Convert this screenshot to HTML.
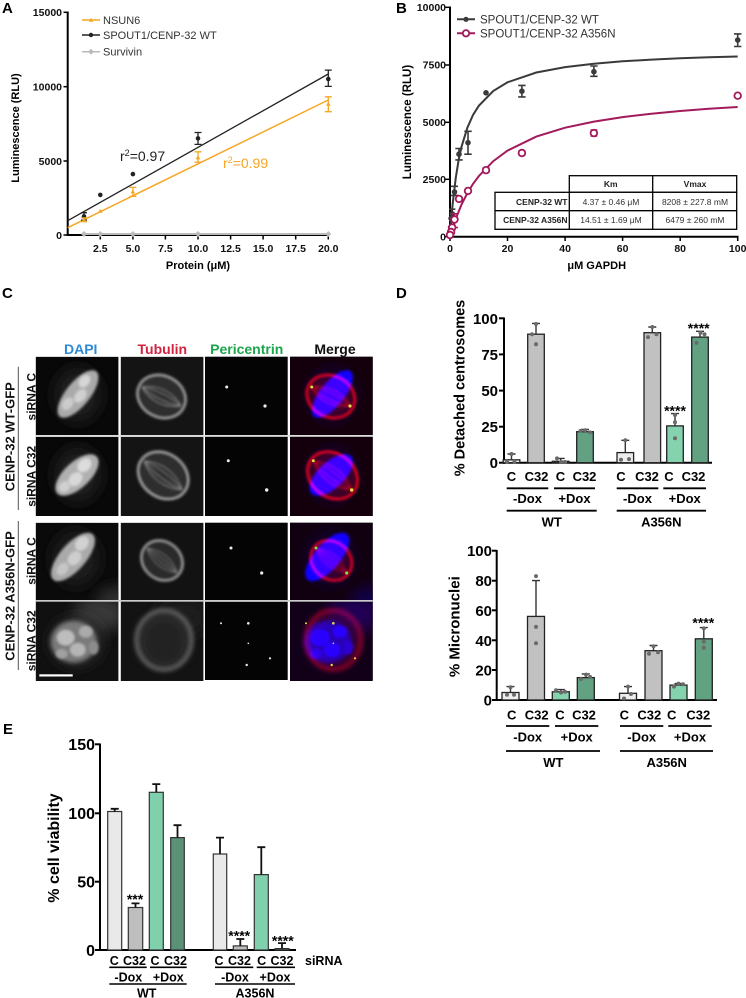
<!DOCTYPE html>
<html><head><meta charset="utf-8">
<style>
html,body{margin:0;padding:0;background:#fff;}
svg{display:block;}
text{font-family:"Liberation Sans",Arial,sans-serif;}
.b{font-weight:bold;}
</style></head>
<body>
<svg width="746" height="998" viewBox="0 0 746 998" xmlns="http://www.w3.org/2000/svg">
<defs>
  <filter id="bl1" x="-50%" y="-50%" width="200%" height="200%"><feGaussianBlur stdDeviation="1.2"/></filter>
  <filter id="bl2" x="-50%" y="-50%" width="200%" height="200%"><feGaussianBlur stdDeviation="2.2"/></filter>
  <filter id="bl6" x="-50%" y="-50%" width="200%" height="200%"><feGaussianBlur stdDeviation="7"/></filter>
  <filter id="toBlue" color-interpolation-filters="sRGB"><feColorMatrix values="0 0 0 0 0  0 0 0 0 0  0.5 0.5 0.5 0 0  0 0 0 1 0"/></filter>
  <filter id="toRed" color-interpolation-filters="sRGB"><feColorMatrix values="0.5 0.5 0.5 0 -0.04  0 0 0 0 0  0.02 0.02 0.02 0 0  0 0 0 1 0"/></filter>
  <clipPath id="cell"><rect x="0" y="0" width="82.7" height="79.3"/></clipPath>

  <!-- DAPI contents -->
  <g id="dapi1" clip-path="url(#cell)">
    <rect width="83" height="80" fill="#080808"/>
    <ellipse cx="42" cy="38" rx="24" ry="28" fill="#1a1a1a" filter="url(#bl6)"/>
    <g transform="translate(42.3,37.3) rotate(39)">
      <ellipse rx="12" ry="29" fill="#aaaaaa" filter="url(#bl1)"/>
      <ellipse cx="-3" cy="-14" rx="5" ry="7" fill="#d6d6d6" filter="url(#bl1)"/>
      <ellipse cx="3" cy="0" rx="5" ry="8" fill="#d0d0d0" filter="url(#bl1)"/>
      <ellipse cx="-2" cy="14" rx="5" ry="7" fill="#cccccc" filter="url(#bl1)"/>
    </g>
  </g>
  <g id="dapi2" clip-path="url(#cell)">
    <rect width="83" height="80" fill="#080808"/>
    <ellipse cx="42" cy="38" rx="24" ry="28" fill="#1a1a1a" filter="url(#bl6)"/>
    <g transform="translate(41.3,38.3) rotate(47)">
      <ellipse rx="13" ry="27" fill="#b0b0b0" filter="url(#bl1)"/>
      <ellipse cx="-2" cy="-12" rx="6" ry="8" fill="#dcdcdc" filter="url(#bl1)"/>
      <ellipse cx="2" cy="4" rx="6" ry="8" fill="#d8d8d8" filter="url(#bl1)"/>
      <ellipse cx="0" cy="17" rx="5" ry="6" fill="#d0d0d0" filter="url(#bl1)"/>
    </g>
  </g>
  <g id="dapi3" clip-path="url(#cell)">
    <rect width="83" height="80" fill="#0a0a0a"/>
    <ellipse cx="40" cy="36" rx="24" ry="28" fill="#1c1c1c" filter="url(#bl6)"/>
    <ellipse cx="82" cy="78" rx="22" ry="14" fill="#2e2e2e" filter="url(#bl6)"/>
    <g transform="translate(37.3,34.3) rotate(41)">
      <ellipse rx="13" ry="30" fill="#aaaaaa" filter="url(#bl1)"/>
      <ellipse cx="-2" cy="-16" rx="6" ry="8" fill="#d2d2d2" filter="url(#bl1)"/>
      <ellipse cx="2" cy="0" rx="6" ry="8" fill="#cecece" filter="url(#bl1)"/>
      <ellipse cx="0" cy="16" rx="5" ry="7" fill="#c6c6c6" filter="url(#bl1)"/>
    </g>
  </g>
  <g id="dapi4" clip-path="url(#cell)">
    <rect width="83" height="80" fill="#101010"/>
    <ellipse cx="64" cy="12" rx="26" ry="18" fill="#383838" filter="url(#bl6)"/>
    <ellipse cx="41" cy="40" rx="26" ry="24" fill="#2a2a2a" filter="url(#bl6)"/>
    <ellipse cx="38" cy="40" rx="23" ry="21" fill="#7a7a7a" filter="url(#bl2)"/>
    <ellipse cx="30" cy="36" rx="9" ry="8" fill="#bdbdbd" filter="url(#bl1)"/>
    <ellipse cx="42" cy="48" rx="8" ry="7" fill="#b5b5b5" filter="url(#bl1)"/>
    <ellipse cx="50" cy="30" rx="7" ry="6" fill="#aaaaaa" filter="url(#bl1)"/>
    <ellipse cx="58" cy="46" rx="5" ry="7" fill="#8c8c8c" filter="url(#bl1)"/>
    <ellipse cx="26" cy="52" rx="6" ry="5" fill="#a0a0a0" filter="url(#bl1)"/>
  </g>

  <!-- Tubulin contents -->
  <g id="tub1" clip-path="url(#cell)">
    <rect width="83" height="80" fill="#141414"/>
    <g transform="translate(40.8,39.8) rotate(26)">
      <ellipse rx="25" ry="21" fill="#2e2e2e" stroke="#a8a8a8" stroke-width="2" filter="url(#bl1)"/>
      <path d="M-22 0 Q0 -14 22 0 M-22 0 Q0 -6 22 0 M-22 0 Q0 6 22 0 M-22 0 Q0 14 22 0" stroke="#8a8a8a" stroke-width="1.1" fill="none" filter="url(#bl1)"/>
    </g>
  </g>
  <g id="tub2" clip-path="url(#cell)">
    <rect width="83" height="80" fill="#141414"/>
    <g transform="translate(42.5,38.7) rotate(37)">
      <ellipse rx="27" ry="22" fill="#2f2f2f" stroke="#ababab" stroke-width="2" filter="url(#bl1)"/>
      <path d="M-24 0 Q0 -15 24 0 M-24 0 Q0 -6 24 0 M-24 0 Q0 6 24 0 M-24 0 Q0 15 24 0" stroke="#8a8a8a" stroke-width="1.1" fill="none" filter="url(#bl1)"/>
    </g>
  </g>
  <g id="tub3" clip-path="url(#cell)">
    <rect width="83" height="80" fill="#121212"/>
    <g transform="translate(41.3,37.8) rotate(39)">
      <ellipse rx="22" ry="19" fill="#2a2a2a" stroke="#a0a0a0" stroke-width="2" filter="url(#bl1)"/>
      <path d="M-20 0 Q0 -12 20 0 M-20 0 Q0 -4 20 0 M-20 0 Q0 4 20 0 M-20 0 Q0 12 20 0" stroke="#7a7a7a" stroke-width="1" fill="none" filter="url(#bl1)"/>
    </g>
  </g>
  <g id="tub4" clip-path="url(#cell)">
    <rect width="83" height="80" fill="#131313"/>
    <ellipse cx="60" cy="16" rx="28" ry="20" fill="#1c1c1c" filter="url(#bl6)"/>
    <ellipse cx="43.3" cy="38.3" rx="28" ry="30" fill="#2c2c2c" stroke="#6a6a6a" stroke-width="3" filter="url(#bl2)"/>
    <ellipse cx="43.3" cy="40" rx="18" ry="20" fill="#202020" filter="url(#bl2)"/>
  </g>

  <!-- Pericentrin dots -->
  <g id="per1"><circle cx="21.7" cy="30.3" r="1.5"/><circle cx="60" cy="49.3" r="1.6"/></g>
  <g id="per2"><circle cx="23.3" cy="24" r="1.5"/><circle cx="61.7" cy="53.3" r="1.7"/></g>
  <g id="per3"><circle cx="26" cy="25.3" r="1.5"/><circle cx="56.7" cy="50.3" r="1.6"/></g>
  <g id="per4"><circle cx="16" cy="21.6" r="1"/><circle cx="43.3" cy="21.6" r="1.3"/><circle cx="41.7" cy="63.3" r="1.2"/><circle cx="65" cy="56.6" r="1.1"/><circle cx="43.3" cy="41.6" r="0.8"/></g>
</defs>

<!-- ================= Panel A ================= -->
<text x="2" y="13" font-size="15" class="b">A</text>
<g stroke="#000" stroke-width="2" fill="none">
  <line x1="67.7" y1="11.5" x2="67.7" y2="236"/>
  <line x1="66.7" y1="235" x2="329" y2="235"/>
</g>
<g stroke="#000" stroke-width="1.5">
  <line x1="63.5" y1="12.3" x2="67.7" y2="12.3"/><line x1="63.5" y1="86.7" x2="67.7" y2="86.7"/>
  <line x1="63.5" y1="161" x2="67.7" y2="161"/><line x1="63.5" y1="235" x2="67.7" y2="235"/>
  <line x1="100.3" y1="235" x2="100.3" y2="239.5"/><line x1="132.9" y1="235" x2="132.9" y2="239.5"/>
  <line x1="165.4" y1="235" x2="165.4" y2="239.5"/><line x1="198" y1="235" x2="198" y2="239.5"/>
  <line x1="230.6" y1="235" x2="230.6" y2="239.5"/><line x1="263.1" y1="235" x2="263.1" y2="239.5"/>
  <line x1="295.7" y1="235" x2="295.7" y2="239.5"/><line x1="328.3" y1="235" x2="328.3" y2="239.5"/>
</g>
<g font-size="10.5" class="b" text-anchor="end" fill="#111">
  <text x="62" y="16">15000</text><text x="62" y="90.5">10000</text>
  <text x="62" y="165">5000</text><text x="62" y="239">0</text>
</g>
<g font-size="10.5" class="b" text-anchor="middle" fill="#111">
  <text x="100.3" y="252">2.5</text><text x="132.9" y="252">5.0</text><text x="165.4" y="252">7.5</text>
  <text x="198" y="252">10.0</text><text x="230.6" y="252">12.5</text><text x="263.1" y="252">15.0</text>
  <text x="295.7" y="252">17.5</text><text x="328.3" y="252">20.0</text>
</g>
<text x="198" y="269" font-size="11" class="b" text-anchor="middle">Protein (μM)</text>
<text transform="translate(19,128) rotate(-90)" font-size="11" class="b" text-anchor="middle">Luminescence (RLU)</text>
<!-- survivin -->
<line x1="84" y1="234" x2="328.3" y2="234" stroke="#bbb" stroke-width="2"/>
<g fill="#bbb">
  <path d="M84 231 l3 3 l-3 3 l-3 -3z"/><path d="M100.3 231 l3 3 l-3 3 l-3 -3z"/><path d="M132.9 231 l3 3 l-3 3 l-3 -3z"/>
  <path d="M198 231 l3 3 l-3 3 l-3 -3z"/><path d="M328.3 231 l3 3 l-3 3 l-3 -3z"/>
</g>
<!-- fits -->
<line x1="67.7" y1="220.7" x2="328.3" y2="74" stroke="#222" stroke-width="1.3"/>
<line x1="67.7" y1="227.7" x2="328.3" y2="100" stroke="#F5A623" stroke-width="1.5"/>
<!-- black data -->
<g stroke="#222" stroke-width="1.3" fill="none">
  <path d="M84 220.1 V212.7 M81 220.1 h6 M81 212.7 h6"/>
  <path d="M198 144.4 V132.5 M194.5 144.4 h7 M194.5 132.5 h7"/>
  <path d="M328.3 86.4 V70.1 M324.8 86.4 h7 M324.8 70.1 h7"/>
</g>
<g fill="#222">
  <circle cx="84" cy="216.4" r="2.3"/><circle cx="100.3" cy="194.9" r="2.3"/><circle cx="132.9" cy="174.1" r="2.3"/>
  <circle cx="198" cy="138.4" r="2.3"/><circle cx="328.3" cy="79" r="2.3"/>
</g>
<!-- orange data -->
<g stroke="#F5A623" stroke-width="1.3" fill="none">
  <path d="M84 221.6 V217.9 M81 221.6 h6 M81 217.9 h6"/>
  <path d="M132.9 196.4 V187.4 M129.4 196.4 h7 M129.4 187.4 h7"/>
  <path d="M198 162.2 V151.8 M194.5 162.2 h7 M194.5 151.8 h7"/>
  <path d="M328.3 111.7 V96.8 M324.8 111.7 h7 M324.8 96.8 h7"/>
</g>
<g fill="#F5A623">
  <path d="M84 217.6 l2.3 4 h-4.6z"/><path d="M100.3 208.7 l2.3 4 h-4.6z"/><path d="M132.9 189.4 l2.3 4 h-4.6z"/>
  <path d="M198 155.2 l2.3 4 h-4.6z"/><path d="M328.3 101.7 l2.3 4 h-4.6z"/>
</g>
<text x="120" y="161" font-size="14" fill="#222">r<tspan dy="-5" font-size="9">2</tspan><tspan dy="5">=0.97</tspan></text>
<text x="223" y="168" font-size="14" fill="#F5A623">r<tspan dy="-5" font-size="9">2</tspan><tspan dy="5">=0.99</tspan></text>
<!-- legend A -->
<line x1="82" y1="20" x2="100" y2="20" stroke="#F5A623" stroke-width="1.5"/><path d="M91 17.8 l2.3 4 h-4.6z" fill="#F5A623"/>
<line x1="82" y1="35" x2="100" y2="35" stroke="#222" stroke-width="1.5"/><circle cx="91" cy="35" r="2.2" fill="#222"/>
<line x1="82" y1="51.7" x2="100" y2="51.7" stroke="#bbb" stroke-width="1.5"/><path d="M91 48.7 l3 3 l-3 3 l-3 -3z" fill="#bbb"/>
<g font-size="11" fill="#333">
  <text x="103" y="24">NSUN6</text><text x="103" y="39">SPOUT1/CENP-32 WT</text><text x="103" y="55.7">Survivin</text>
</g>

<!-- ================= Panel B ================= -->
<text x="396" y="13" font-size="15" class="b">B</text>
<g stroke="#000" stroke-width="2" fill="none">
  <line x1="450" y1="6.5" x2="450" y2="237.7"/>
  <line x1="449" y1="236.7" x2="738.5" y2="236.7"/>
</g>
<g stroke="#000" stroke-width="1.5">
  <line x1="445.5" y1="7.3" x2="450" y2="7.3"/><line x1="445.5" y1="65" x2="450" y2="65"/>
  <line x1="445.5" y1="122.3" x2="450" y2="122.3"/><line x1="445.5" y1="179.3" x2="450" y2="179.3"/>
  <line x1="445.5" y1="236.7" x2="450" y2="236.7"/>
  <line x1="450" y1="236.7" x2="450" y2="241"/><line x1="507.5" y1="236.7" x2="507.5" y2="241"/>
  <line x1="565.1" y1="236.7" x2="565.1" y2="241"/><line x1="622.6" y1="236.7" x2="622.6" y2="241"/>
  <line x1="680.2" y1="236.7" x2="680.2" y2="241"/><line x1="737.7" y1="236.7" x2="737.7" y2="241"/>
</g>
<g font-size="10.5" class="b" text-anchor="end" fill="#111">
  <text x="446" y="11">10000</text><text x="446" y="68.7">7500</text><text x="446" y="126">5000</text>
  <text x="446" y="183">2500</text><text x="446" y="240.4">0</text>
</g>
<g font-size="10.5" class="b" text-anchor="middle" fill="#111">
  <text x="450" y="252">0</text><text x="507.5" y="252">20</text><text x="565.1" y="252">40</text>
  <text x="622.6" y="252">60</text><text x="680.2" y="252">80</text><text x="737.7" y="252">100</text>
</g>
<text x="596.7" y="269" font-size="11" class="b" text-anchor="middle">μM GAPDH</text>
<text transform="translate(411,122) rotate(-90)" font-size="11.5" class="b" text-anchor="middle">Luminescence (RLU)</text>
<!-- curves -->
<path d="M450 236.7 L451.4 217.4 L452.9 201.7 L455.8 177.6 L458.6 160.1 L461.5 146.8 L467.3 127.9 L473 115 L478.8 105.8 L493.2 91 L507.5 82.3 L536.3 72.5 L565.1 67.1 L593.9 63.7 L622.6 61.3 L651.4 59.6 L680.2 58.3 L708.9 57.3 L737.7 56.5" fill="none" stroke="#3a3a3a" stroke-width="2"/>
<path d="M450 236.7 L451.4 231.8 L452.9 227.1 L455.8 218.7 L461.5 204.6 L467.3 193.3 L473 183.9 L478.8 176.1 L493.2 161.2 L507.5 150.6 L536.3 136.6 L565.1 127.7 L593.9 121.6 L622.6 117.1 L651.4 113.7 L680.2 111 L708.9 108.8 L737.7 107" fill="none" stroke="#A31A5C" stroke-width="2"/>
<!-- WT points -->
<g stroke="#3a3a3a" stroke-width="1.6" fill="none">
  <path d="M737.7 46.5 V33.9 M734 46.5 h7.4 M734 33.9 h7.4"/>
  <path d="M593.9 76.3 V66 M590.2 76.3 h7.4 M590.2 66 h7.4"/>
  <path d="M521.9 96.9 V85.4 M518.2 96.9 h7.4 M518.2 85.4 h7.4"/>
  <path d="M468 154.2 V131.3 M464.3 154.2 h7.4 M464.3 131.3 h7.4"/>
  <path d="M459 159.9 V148.5 M455.3 159.9 h7.4 M455.3 148.5 h7.4"/>
  <path d="M454.5 195.4 V186.3 M451 195.4 h7 M451 186.3 h7"/>
  <path d="M452.2 220.7 V209.2 M449 220.7 h6.4 M449 209.2 h6.4"/>
</g>
<g fill="#3a3a3a">
  <circle cx="737.7" cy="40" r="2.8"/><circle cx="593.9" cy="71.7" r="2.8"/><circle cx="521.9" cy="91.2" r="2.8"/>
  <circle cx="486" cy="92.8" r="2.8"/><circle cx="468" cy="142.7" r="2.8"/><circle cx="459" cy="154.2" r="2.8"/>
  <circle cx="454.5" cy="192" r="2.8"/><circle cx="452.2" cy="213.8" r="2.8"/><circle cx="451.1" cy="218.4" r="2.8"/>
  <circle cx="450.6" cy="227.5" r="2.8"/><circle cx="450" cy="234" r="2.8"/>
</g>
<!-- A356N points -->
<g stroke="#A31A5C" stroke-width="1.6" fill="none">
  <path d="M593.9 136 V130 M590.5 136 h6.8 M590.5 130 h6.8"/>
  <path d="M521.9 155.3 V150.7 M518.5 155.3 h6.8 M518.5 150.7 h6.8"/>
  <path d="M486 172.5 V167.9 M482.6 172.5 h6.8 M482.6 167.9 h6.8"/>
  <path d="M454.5 227.5 V213.8 M451 227.5 h7 M451 213.8 h7"/>
</g>
<g fill="#fff" stroke="#A31A5C" stroke-width="1.8">
  <circle cx="737.7" cy="95.7" r="3.3"/><circle cx="593.9" cy="133.1" r="3.3"/><circle cx="521.9" cy="153" r="3.3"/>
  <circle cx="486" cy="170.2" r="3.3"/><circle cx="468" cy="190.9" r="3.3"/><circle cx="459" cy="198.9" r="3.3"/>
  <circle cx="454.5" cy="219.5" r="3.3"/><circle cx="452.2" cy="227.5" r="3.3"/><circle cx="451.1" cy="232" r="3.3"/>
  <circle cx="450" cy="235" r="3.3"/>
</g>
<!-- legend B -->
<line x1="457" y1="19.3" x2="475" y2="19.3" stroke="#3a3a3a" stroke-width="2"/><circle cx="466" cy="19.3" r="2.6" fill="#3a3a3a"/>
<line x1="457" y1="33.3" x2="475" y2="33.3" stroke="#A31A5C" stroke-width="2"/><circle cx="466" cy="33.3" r="3.2" fill="#fff" stroke="#A31A5C" stroke-width="1.8"/>
<g font-size="11.5" fill="#333">
  <text x="480" y="23.5">SPOUT1/CENP-32 WT</text><text x="480" y="37.5">SPOUT1/CENP-32 A356N</text>
</g>
<!-- table -->
<g stroke="#000" stroke-width="1.3" fill="#fff">
  <rect x="569.3" y="175.7" width="167.4" height="16.6"/>
  <rect x="495" y="192.3" width="241.7" height="37"/>
  <line x1="495" y1="210.7" x2="736.7" y2="210.7"/>
  <line x1="569.3" y1="192.3" x2="569.3" y2="229.3"/>
  <line x1="652.7" y1="175.7" x2="652.7" y2="229.3"/>
</g>
<g font-size="8.5" class="b" fill="#222">
  <text x="610.7" y="187" text-anchor="middle">Km</text><text x="695" y="187" text-anchor="middle">Vmax</text>
  <text x="567.5" y="204.8" text-anchor="end">CENP-32 WT</text><text x="567.5" y="223.2" text-anchor="end">CENP-32 A356N</text>
</g>
<g font-size="8.5" fill="#333" text-anchor="middle">
  <text x="611" y="204.8">4.37 ± 0.46 μM</text><text x="695" y="204.8">8208 ± 227.8 mM</text>
  <text x="611" y="223.2">14.51 ± 1.69 μM</text><text x="695" y="223.2">6479 ± 260 mM</text>
</g>

<!-- ================= Panel C ================= -->
<text x="2" y="298" font-size="15" class="b">C</text>
<g font-size="14" class="b" text-anchor="middle">
  <text x="80.7" y="354" fill="#2F8AD6">DAPI</text>
  <text x="162.3" y="354" fill="#D2233F">Tubulin</text>
  <text x="246.7" y="354" fill="#1DA54E">Pericentrin</text>
  <text x="335" y="354" fill="#111">Merge</text>
</g>
<g font-size="13" class="b" text-anchor="middle" fill="#111">
  <text transform="translate(14.7,436.7) rotate(-90)">CENP-32 WT-GFP</text>
  <text transform="translate(14.7,596) rotate(-90)">CENP-32 A356N-GFP</text>
</g>
<line x1="18.3" y1="366.7" x2="18.3" y2="510" stroke="#555" stroke-width="1"/>
<line x1="18.3" y1="521" x2="18.3" y2="670" stroke="#555" stroke-width="1"/>
<g font-size="12" class="b" text-anchor="middle" fill="#111">
  <text transform="translate(35.6,396.7) rotate(-90)">siRNA C</text>
  <text transform="translate(35.6,476.3) rotate(-90)">siRNA C32</text>
  <text transform="translate(35.6,561) rotate(-90)">siRNA C</text>
  <text transform="translate(35.6,640.8) rotate(-90)">siRNA C32</text>
</g>
<!-- row 1 -->
<use href="#dapi1" x="35.7" y="356.7"/>
<use href="#tub1" x="120.7" y="356.7"/>
<rect x="205" y="356.7" width="82.7" height="78.3" fill="#040404"/>
<use href="#per1" x="205" y="356.7" fill="#eee"/>
<g>
  <rect x="290" y="356.7" width="82.7" height="78.3" fill="#000"/>
  <use href="#dapi1" x="290" y="356.7" filter="url(#toBlue)"/>
  <use href="#tub1" x="290" y="356.7" filter="url(#toRed)" style="mix-blend-mode:screen"/>
  <use href="#per1" x="290" y="356.7" fill="#d8e040"/>
</g>
<!-- row 2 -->
<use href="#dapi2" x="35.7" y="436.7"/>
<use href="#tub2" x="120.7" y="436.7"/>
<rect x="205" y="436.7" width="82.7" height="79.3" fill="#040404"/>
<use href="#per2" x="205" y="436.7" fill="#eee"/>
<g>
  <rect x="290" y="436.7" width="82.7" height="79.3" fill="#000"/>
  <use href="#dapi2" x="290" y="436.7" filter="url(#toBlue)"/>
  <use href="#tub2" x="290" y="436.7" filter="url(#toRed)" style="mix-blend-mode:screen"/>
  <use href="#per2" x="290" y="436.7" fill="#d8e040"/>
</g>
<!-- row 3 -->
<use href="#dapi3" x="35.7" y="522.7"/>
<use href="#tub3" x="120.7" y="522.7"/>
<rect x="205" y="522.7" width="82.7" height="77.3" fill="#040404"/>
<use href="#per3" x="205" y="522.7" fill="#eee"/>
<g>
  <rect x="290" y="522.7" width="82.7" height="77.3" fill="#000"/>
  <use href="#dapi3" x="290" y="522.7" filter="url(#toBlue)"/>
  <use href="#tub3" x="290" y="522.7" filter="url(#toRed)" style="mix-blend-mode:screen"/>
  <use href="#per3" x="290" y="522.7" fill="#7be040"/>
</g>
<!-- row 4 -->
<use href="#dapi4" x="35.7" y="601.7"/>
<use href="#tub4" x="120.7" y="601.7"/>
<rect x="205" y="601.7" width="82.7" height="78.3" fill="#040404"/>
<use href="#per4" x="205" y="601.7" fill="#eee"/>
<g>
  <rect x="290" y="601.7" width="82.7" height="78.3" fill="#000"/>
  <use href="#dapi4" x="290" y="601.7" filter="url(#toBlue)"/>
  <use href="#tub4" x="290" y="601.7" filter="url(#toRed)" style="mix-blend-mode:screen"/>
  <use href="#per4" x="290" y="601.7" fill="#e0e040"/>
</g>
<!-- row separators within groups -->
<rect x="35.7" y="435" width="337" height="1.7" fill="#ddd"/>
<rect x="35.7" y="600" width="337" height="1.7" fill="#ccc"/>
<rect x="39.3" y="674.3" width="33.4" height="2.2" fill="#fff"/>

<!-- ================= Panel D (top) ================= -->
<text x="396" y="298" font-size="15" class="b">D</text>
<text transform="translate(464.5,388) rotate(-90)" font-size="14.5" class="b" text-anchor="middle">% Detached centrosomes</text>
<g stroke="#000" stroke-width="2">
  <line x1="504" y1="317.5" x2="504" y2="463.7"/>
  <line x1="503" y1="462.7" x2="712" y2="462.7"/>
  <line x1="499" y1="318.3" x2="504" y2="318.3"/><line x1="499" y1="354.4" x2="504" y2="354.4"/>
  <line x1="499" y1="390.6" x2="504" y2="390.6"/><line x1="499" y1="426.7" x2="504" y2="426.7"/>
  <line x1="499" y1="462.7" x2="504" y2="462.7"/>
</g>
<g font-size="15" class="b" text-anchor="end">
  <text x="498" y="323.8">100</text><text x="498" y="359.9">75</text><text x="498" y="396.1">50</text>
  <text x="498" y="432.2">25</text><text x="498" y="468.2">0</text>
</g>
<g stroke="#222" stroke-width="1.3">
  <rect x="503.2" y="459.8" width="16.6" height="2.9" fill="#EDEDED"/>
  <rect x="527.7" y="334.2" width="16.6" height="128.5" fill="#C0C1C0"/>
  <rect x="552.4" y="461.3" width="16.6" height="1.4" fill="#84D3AE"/>
  <rect x="576.7" y="431.7" width="16.6" height="31" fill="#62A283"/>
  <rect x="617" y="452.6" width="16.6" height="10.1" fill="#EDEDED"/>
  <rect x="644" y="332.7" width="16.6" height="130" fill="#C0C1C0"/>
  <rect x="666.7" y="425.9" width="16.6" height="36.8" fill="#84D3AE"/>
  <rect x="691.7" y="337.1" width="16.6" height="125.6" fill="#62A283"/>
</g>
<g stroke="#333" stroke-width="1.4" fill="none">
  <path d="M511.5 459.8 V454 M507.5 454 h8"/>
  <path d="M536 334.2 V323.4 M532 323.4 h8"/>
  <path d="M560.7 461.3 V458.4 M556.7 458.4 h8"/>
  <path d="M585 431.7 V429.5 M581 429.5 h8"/>
  <path d="M625.3 452.6 V440.3 M621.3 440.3 h8"/>
  <path d="M652.3 332.7 V327 M648.3 327 h8"/>
  <path d="M675 425.9 V413.6 M671 413.6 h8"/>
  <path d="M700 337.1 V331.3 M696 331.3 h8"/>
</g>
<g fill="#6a6a6a">
  <circle cx="507" cy="461.5" r="2"/><circle cx="514.5" cy="461.5" r="2"/><circle cx="511.5" cy="454" r="2"/>
  <circle cx="532" cy="334.2" r="2"/><circle cx="536" cy="324" r="2"/><circle cx="536" cy="344.3" r="2"/>
  <circle cx="557" cy="458.4" r="2"/><circle cx="561" cy="462" r="2"/><circle cx="565" cy="462" r="2"/>
  <circle cx="580.5" cy="430.9" r="2"/><circle cx="585" cy="430.2" r="2"/><circle cx="590" cy="432.4" r="2"/>
  <circle cx="621" cy="459.8" r="2"/><circle cx="629" cy="459.1" r="2"/><circle cx="625.3" cy="440.3" r="2"/>
  <circle cx="648" cy="337.1" r="2"/><circle cx="652.3" cy="327" r="2"/><circle cx="656.5" cy="334.2" r="2"/>
  <circle cx="675" cy="422.3" r="2"/><circle cx="675" cy="438.2" r="2"/><circle cx="675" cy="415" r="2"/>
  <circle cx="696.5" cy="342.9" r="2"/><circle cx="700.5" cy="332.7" r="2"/><circle cx="704.5" cy="334.2" r="2"/>
</g>
<g font-size="14" class="b" text-anchor="middle">
  <text x="675" y="415.5">****</text><text x="698.7" y="333">****</text>
</g>
<g font-size="13" class="b" text-anchor="middle">
  <text x="511.5" y="481">C</text><text x="536.5" y="481">C32</text><text x="560.5" y="481">C</text><text x="584.5" y="481">C32</text>
  <text x="621" y="481">C</text><text x="647" y="481">C32</text><text x="669" y="481">C</text><text x="693.5" y="481">C32</text>
  <text x="527.5" y="503">-Dox</text><text x="574.5" y="503">+Dox</text><text x="637.5" y="503">-Dox</text><text x="684.7" y="503">+Dox</text>
  <text x="551.7" y="526.5">WT</text><text x="661.3" y="526.5">A356N</text>
</g>
<g stroke="#000" stroke-width="1.8">
  <line x1="506.7" y1="488.3" x2="548.3" y2="488.3"/><line x1="554" y1="488.3" x2="595" y2="488.3"/>
  <line x1="616.7" y1="488.3" x2="658.3" y2="488.3"/><line x1="663.3" y1="488.3" x2="706" y2="488.3"/>
  <line x1="506.7" y1="510.7" x2="596.7" y2="510.7"/><line x1="616.7" y1="510.7" x2="706" y2="510.7"/>
</g>

<!-- ================= Panel D (bottom) ================= -->
<text transform="translate(459.5,626.7) rotate(-90)" font-size="15" class="b" text-anchor="middle">% Micronuclei</text>
<g stroke="#000" stroke-width="2">
  <line x1="496.7" y1="550" x2="496.7" y2="701"/>
  <line x1="495.7" y1="700" x2="717" y2="700"/>
  <line x1="492" y1="550.7" x2="496.7" y2="550.7"/><line x1="492" y1="580.7" x2="496.7" y2="580.7"/>
  <line x1="492" y1="610.3" x2="496.7" y2="610.3"/><line x1="492" y1="640.3" x2="496.7" y2="640.3"/>
  <line x1="492" y1="670" x2="496.7" y2="670"/><line x1="492" y1="700" x2="496.7" y2="700"/>
</g>
<g font-size="15" class="b" text-anchor="end">
  <text x="492" y="556.2">100</text><text x="492" y="586.2">80</text><text x="492" y="615.8">60</text>
  <text x="492" y="645.8">40</text><text x="492" y="675.5">20</text><text x="492" y="705.5">0</text>
</g>
<g stroke="#222" stroke-width="1.3">
  <rect x="502" y="692.5" width="17" height="7.5" fill="#EDEDED"/>
  <rect x="527.5" y="616.4" width="17" height="83.6" fill="#C0C1C0"/>
  <rect x="552.3" y="691.8" width="17" height="8.2" fill="#84D3AE"/>
  <rect x="577.3" y="677.6" width="17" height="22.4" fill="#62A283"/>
  <rect x="619.5" y="693.3" width="17" height="6.7" fill="#EDEDED"/>
  <rect x="645" y="650.7" width="17" height="49.3" fill="#C0C1C0"/>
  <rect x="670" y="685.1" width="17" height="14.9" fill="#84D3AE"/>
  <rect x="695.3" y="638.8" width="17" height="61.2" fill="#62A283"/>
</g>
<g stroke="#333" stroke-width="1.4" fill="none">
  <path d="M510.5 692.5 V686.6 M506.5 686.6 h8"/>
  <path d="M536 616.4 V580.6 M532 580.6 h8"/>
  <path d="M560.8 691.8 V689.6 M556.8 689.6 h8"/>
  <path d="M585.8 677.6 V673.9 M581.8 673.9 h8"/>
  <path d="M628 693.3 V686.6 M624 686.6 h8"/>
  <path d="M653.5 650.7 V645.5 M649.5 645.5 h8"/>
  <path d="M678.5 685.1 V683.6 M674.5 683.6 h8"/>
  <path d="M703.8 638.8 V627.6 M699.8 627.6 h8"/>
</g>
<g fill="#6a6a6a">
  <circle cx="507" cy="694.8" r="2"/><circle cx="514" cy="694.8" r="2"/><circle cx="510.5" cy="687.3" r="2"/>
  <circle cx="536" cy="576.1" r="2"/><circle cx="536" cy="626.9" r="2"/><circle cx="536" cy="643.3" r="2"/>
  <circle cx="556" cy="690.3" r="2"/><circle cx="561" cy="692.5" r="2"/><circle cx="565" cy="691.8" r="2"/>
  <circle cx="581" cy="679.1" r="2"/><circle cx="586" cy="674.6" r="2"/><circle cx="590" cy="676.9" r="2"/>
  <circle cx="624" cy="698.5" r="2"/><circle cx="631" cy="694" r="2"/><circle cx="628" cy="686.6" r="2"/>
  <circle cx="649" cy="653.7" r="2"/><circle cx="653.5" cy="646.3" r="2"/><circle cx="658" cy="652.2" r="2"/>
  <circle cx="674" cy="686.6" r="2"/><circle cx="678.5" cy="683.6" r="2"/><circle cx="683" cy="684.3" r="2"/>
  <circle cx="703.8" cy="628.4" r="2"/><circle cx="703.8" cy="641.8" r="2"/><circle cx="703.8" cy="647.8" r="2"/>
</g>
<text x="703.3" y="627.5" font-size="14" class="b" text-anchor="middle">****</text>
<g font-size="13" class="b" text-anchor="middle">
  <text x="511.7" y="719.3">C</text><text x="536.7" y="719.3">C32</text><text x="560" y="719.3">C</text><text x="584" y="719.3">C32</text>
  <text x="624.3" y="719.3">C</text><text x="649.3" y="719.3">C32</text><text x="671.7" y="719.3">C</text><text x="698.3" y="719.3">C32</text>
  <text x="527.7" y="741.7">-Dox</text><text x="576.7" y="741.7">+Dox</text><text x="641.7" y="741.7">-Dox</text><text x="690" y="741.7">+Dox</text>
  <text x="553.3" y="767">WT</text><text x="666.7" y="767">A356N</text>
</g>
<g stroke="#000" stroke-width="1.8">
  <line x1="506" y1="726" x2="549.3" y2="726"/><line x1="555" y1="726" x2="598.3" y2="726"/>
  <line x1="620" y1="726" x2="663.3" y2="726"/><line x1="668.3" y1="726" x2="711.7" y2="726"/>
  <line x1="506" y1="751" x2="600" y2="751"/><line x1="620" y1="751" x2="713" y2="751"/>
</g>

<!-- ================= Panel E ================= -->
<text x="3" y="734" font-size="15" class="b">E</text>
<text transform="translate(59,848) rotate(-90)" font-size="16" class="b" text-anchor="middle">% cell viability</text>
<g stroke="#000" stroke-width="2">
  <line x1="100" y1="743.5" x2="100" y2="951"/>
  <line x1="99" y1="950" x2="296" y2="950"/>
  <line x1="95" y1="744.3" x2="100" y2="744.3"/><line x1="95" y1="813.3" x2="100" y2="813.3"/>
  <line x1="95" y1="881.7" x2="100" y2="881.7"/><line x1="95" y1="950" x2="100" y2="950"/>
</g>
<g font-size="16" class="b" text-anchor="end">
  <text x="95" y="750">150</text><text x="95" y="819">100</text><text x="95" y="887.5">50</text><text x="95" y="955.8">0</text>
</g>
<g stroke="#333" stroke-width="1.2">
  <rect x="107.7" y="811.5" width="14" height="138.5" fill="#E8E9E8"/>
  <rect x="128.3" y="907.5" width="14.4" height="42.5" fill="#BDBEBD"/>
  <rect x="149.3" y="792.3" width="14" height="157.7" fill="#80D0AD"/>
  <rect x="170.7" y="837.6" width="13.6" height="112.4" fill="#5A9278"/>
  <rect x="213.3" y="854" width="13.4" height="96" fill="#E8E9E8"/>
  <rect x="233.3" y="945.9" width="14" height="4.1" fill="#BDBEBD"/>
  <rect x="254.3" y="874.6" width="14" height="75.4" fill="#80D0AD"/>
  <rect x="275" y="948.6" width="14" height="1.4" fill="#5A9278"/>
</g>
<g stroke="#111" stroke-width="1.8" fill="none">
  <path d="M114.7 811.5 V808.8 M110.7 808.8 h8"/>
  <path d="M135.5 907.5 V903.4 M131.5 903.4 h8"/>
  <path d="M156.3 792.3 V784.1 M152.3 784.1 h8"/>
  <path d="M177.5 837.6 V825.2 M173.5 825.2 h8"/>
  <path d="M220 854 V837.6 M216 837.6 h8"/>
  <path d="M240.3 945.9 V939 M236.3 939 h8"/>
  <path d="M261.3 874.6 V847.2 M257.3 847.2 h8"/>
  <path d="M282 948.6 V943.1 M278 943.1 h8"/>
</g>
<g font-size="14" class="b" text-anchor="middle">
  <text x="135" y="904">***</text><text x="239.2" y="940.5">****</text><text x="282.8" y="945.5">****</text>
</g>
<g font-size="12.5" class="b" text-anchor="middle">
  <text x="114.3" y="965">C</text><text x="134.5" y="965">C32</text><text x="155" y="965">C</text><text x="175.5" y="965">C32</text>
  <text x="219" y="965">C</text><text x="239.5" y="965">C32</text><text x="261.7" y="965">C</text><text x="282" y="965">C32</text>
  <text x="128.3" y="981.5">-Dox</text><text x="168.3" y="981.5">+Dox</text><text x="235" y="981.5">-Dox</text><text x="275" y="981.5">+Dox</text>
  <text x="146.7" y="997.5">WT</text><text x="255" y="997.5">A356N</text>
</g>
<text x="305" y="965" font-size="12.5" class="b">siRNA</text>
<g stroke="#000" stroke-width="1.6">
  <line x1="109.3" y1="967.3" x2="146.7" y2="967.3"/><line x1="150" y1="967.3" x2="186.7" y2="967.3"/>
  <line x1="215" y1="967.3" x2="253.3" y2="967.3"/><line x1="256.7" y1="967.3" x2="295" y2="967.3"/>
  <line x1="109.3" y1="984" x2="186.7" y2="984"/><line x1="215" y1="984" x2="295" y2="984"/>
</g>
</svg>
</body></html>
